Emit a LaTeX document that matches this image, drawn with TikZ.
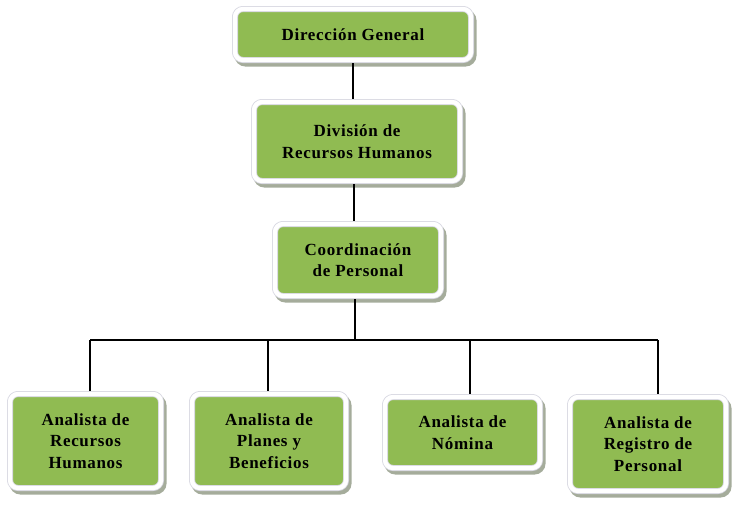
\documentclass[tikz,border=0pt]{standalone}
\usepackage{fontspec}
\setmainfont{Liberation Serif}[LetterSpace=4]
\definecolor{boxgreen}{RGB}{144,187,82}
\definecolor{shadowgray}{RGB}{165,172,155}
\definecolor{frameedge}{RGB}{215,215,225}
\tikzset{
  orgbox/.style={fill=boxgreen, draw=frameedge, line width=0.8pt, double=white, double distance=4.4pt,
    rounded corners=8pt, align=center, inner sep=0pt,
    font=\fontsize{17}{21.5}\selectfont\bfseries,
    preaction={fill=shadowgray, draw=shadowgray, line width=6pt, rounded corners=8pt,
      transform canvas={xshift=2.5pt, yshift=-3.5pt}}},
  conn/.style={line width=1.4pt, draw=black}
}
\begin{document}
\begin{tikzpicture}[x=1pt,y=-1pt]
\useasboundingbox (0,0) rectangle (737,509);
\node[orgbox, minimum width=236pt, minimum height=51pt] (dg) at (353,34.5) {Dirección General};
\node[orgbox, minimum width=206pt, minimum height=79pt] (div) at (357,141.5) {División de\\Recursos Humanos};
\node[orgbox, minimum width=166pt, minimum height=72pt] (coord) at (358,260) {Coordinación\\de Personal};
\node[orgbox, minimum width=151pt, minimum height=94pt] (a1) at (85.5,441) {Analista de\\Recursos\\Humanos};
\node[orgbox, minimum width=154pt, minimum height=94pt] (a2) at (269,441) {Analista de\\Planes y\\Beneficios};
\node[orgbox, minimum width=155pt, minimum height=71pt] (a3) at (462.5,432.5) {Analista de\\Nómina};
\node[orgbox, minimum width=156pt, minimum height=94pt] (a4) at (648,444) {Analista de\\Registro de\\Personal};
\coordinate (mid) at (354,200);
\coordinate (bus) at (355,340);
\coordinate (b1) at (90,340);
\coordinate (b2) at (268,340);
\coordinate (b3) at (470,340);
\coordinate (b4) at (658,340);
\draw[conn] ([yshift=-3pt]dg.south) -- ([yshift=3pt]dg.south |- div.north);
\draw[conn] ([yshift=-3pt]mid |- div.south) -- ([yshift=3pt]mid |- coord.north);
\draw[conn] ([yshift=-3pt]coord.south -| bus) -- (bus);
\draw[conn] (b1) -- (b4);
\draw[conn] (b1) -- ([yshift=3pt]b1 |- a1.north);
\draw[conn] (b2) -- ([yshift=3pt]b2 |- a2.north);
\draw[conn] (b3) -- ([yshift=3pt]b3 |- a3.north);
\draw[conn] (b4) -- ([yshift=3pt]b4 |- a4.north);
\end{tikzpicture}
\end{document}
